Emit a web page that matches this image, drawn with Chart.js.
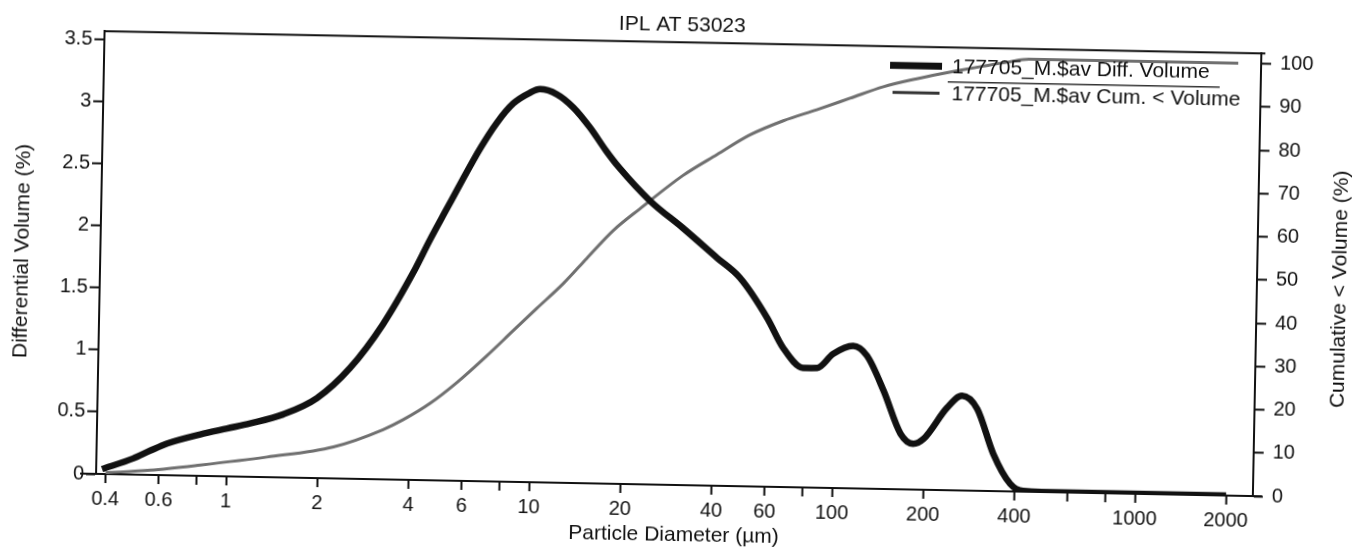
<!DOCTYPE html>
<html><head><meta charset="utf-8">
<script src="https://cdn.jsdelivr.net/npm/chart.js@4/dist/chart.umd.min.js"></script>
<style>
html,body{margin:0;padding:0;background:#fff;overflow:hidden;width:1355px;height:549px}
#wrap{position:absolute;left:0;top:0;width:1355px;height:549px;transform:rotate(1.1deg);transform-origin:677.5px 274.5px}
canvas{display:block}
</style></head><body>
<div id="wrap"><canvas id="c" width="1355" height="549"></canvas></div>
<script>
const chartTitle = 'IPL AT 53023';
const diffLabel = '177705_M.$av Diff. Volume';
const cumLabel = '177705_M.$av Cum. < Volume';
const xTitle = 'Particle Diameter (µm)';
const yLeftTitle = 'Differential Volume (%)';
const yRightTitle = 'Cumulative < Volume (%)';

const diffDiameters = [0.389,0.492,0.559,0.636,0.816,1.0,1.19,1.53,1.97,2.52,3.22,4.02,4.55,5.14,5.81,6.56,7.42,8.39,9.52,10.26,11.66,13.26,15.09,17.11,18.93,24.1,31.0,40.4,48.2,59.6,67.6,78.9,87.9,98.9,115,128,146,167,184,199,237,265,298,339,387,427,600,1000,2000];
const diffValues    = [0.04,0.13,0.195,0.256,0.334,0.386,0.43,0.509,0.644,0.891,1.25,1.67,1.94,2.19,2.44,2.68,2.89,3.05,3.14,3.17,3.132,3.027,2.868,2.683,2.55,2.285,2.073,1.837,1.68,1.361,1.122,0.964,0.966,1.081,1.149,1.071,0.791,0.448,0.369,0.41,0.665,0.764,0.661,0.30,0.062,0.007,0,0,0];

const cumDiameters = [0.4,0.561,0.819,1.36,2.25,3.27,3.81,4.66,5.69,7.11,8.68,10.33,12.61,15.0,18.3,22.3,30.8,39.8,51,65.5,84.3,108.4,139.3,179.4,213.8,242.8,296.5,360,420,1000,2060];
const cumValues    = [0.3,1.1,2.5,4.65,7.3,11.5,13.9,17.8,22.7,29.0,35.0,40.2,46.1,52.0,58.6,63.7,71.6,76.6,81.3,84.7,87.4,90.2,93.0,95.0,96.2,97.0,98.2,99.3,100,100,100];

const xTickValues = [0.4,0.6,0.8,1,2,4,6,8,10,20,40,60,80,100,200,400,600,800,1000,2000];
const xTickLabels = ['0.4','0.6','','1','2','4','6','','10','20','40','60','','100','200','400','','','1000','2000'];
const leftTicks = [0,0.5,1,1.5,2,2.5,3,3.5];
const leftTickLabels = ['0','0.5','1','1.5','2','2.5','3','3.5'];
const rightTicks = [0,10,20,30,40,50,60,70,80,90,100];

const FONT = "'Liberation Sans', Arial, Helvetica, sans-serif";
const INK = '#111';
Chart.defaults.font.family = FONT;
Chart.defaults.color = INK;

const framePlugin = {
  id: 'frameLegend',
  afterDatasetsDraw(chart) {
    const {ctx, chartArea: a} = chart;
    ctx.save();
    ctx.strokeStyle = INK; ctx.lineWidth = 2;
    // top frame line
    ctx.beginPath(); ctx.moveTo(a.left, a.top); ctx.lineTo(a.right + 4, a.top); ctx.stroke();
    // x axis line runs a little past both vertical axes
    ctx.beginPath(); ctx.moveTo(a.left - 16, a.bottom); ctx.lineTo(a.left, a.bottom); ctx.stroke();
    ctx.beginPath(); ctx.moveTo(a.right, a.bottom); ctx.lineTo(a.right + 9, a.bottom); ctx.stroke();
    // legend inside plot, top right
    const ds = chart.data.datasets;
    const rowY = [a.top + 19, a.top + 46];
    const x0 = a.right - 371;
    ds.forEach((d, i) => {
      ctx.strokeStyle = i === 0 ? INK : '#333';
      ctx.lineWidth = i === 0 ? 7 : 3;
      ctx.beginPath(); ctx.moveTo(x0 + (i ? 3 : 0), rowY[i]); ctx.lineTo(x0 + (i ? 50 : 52), rowY[i]); ctx.stroke();
      ctx.fillStyle = INK; ctx.font = '21px ' + FONT; ctx.textBaseline = 'middle'; ctx.textAlign = 'left';
      ctx.fillText(d.label, x0 + 62, rowY[i] + 1);
    });
    ctx.strokeStyle = '#333'; ctx.lineWidth = 1.5;
    ctx.beginPath(); ctx.moveTo(x0 + 58, a.top + 34.5); ctx.lineTo(x0 + 330, a.top + 34.5); ctx.stroke();
    // right axis title, reading bottom-to-top
    ctx.save();
    ctx.translate(1340, (a.top + a.bottom) / 2 + 13);
    ctx.rotate(-Math.PI / 2);
    ctx.font = '21px ' + FONT; ctx.fillStyle = INK; ctx.textAlign = 'center'; ctx.textBaseline = 'middle';
    ctx.fillText(yRightTitle, 0, 0);
    ctx.restore();
    ctx.restore();
  }
};

new Chart(document.getElementById('c'), {
  type: 'line',
  data: {
    datasets: [
      { label: diffLabel, data: diffDiameters.map((d, i) => ({x: d, y: diffValues[i]})), yAxisID: 'y',
        borderColor: INK, borderWidth: 6.5, pointRadius: 0, cubicInterpolationMode: 'monotone', fill: false },
      { label: cumLabel, data: cumDiameters.map((d, i) => ({x: d, y: cumValues[i]})), yAxisID: 'y2',
        borderColor: '#707070', borderWidth: 3, pointRadius: 0, cubicInterpolationMode: 'monotone', fill: false }
    ]
  },
  options: {
    responsive: false, animation: false, devicePixelRatio: 1,
    layout: { padding: 0 },
    plugins: {
      legend: { display: false },
      tooltip: { enabled: false },
      title: { display: true, text: chartTitle, color: INK, font: { size: 21, weight: 'normal' }, padding: { top: 13, bottom: 4 } }
    },
    scales: {
      x: {
        type: 'logarithmic', position: 'bottom', min: 0.372, max: 2451,
        afterBuildTicks: s => { s.ticks = xTickValues.map(v => ({ value: v })); },
        afterFit: s => { s.height = 64; },
        ticks: { autoSkip: false, maxRotation: 0, minRotation: 0, padding: 4, font: { size: 20 }, color: INK,
                 callback: (v, i) => xTickLabels[i] },
        grid: { drawOnChartArea: false, drawTicks: true, tickLength: 9, tickColor: INK, tickWidth: 2 },
        border: { display: true, color: INK, width: 2 },
        title: { display: true, text: xTitle, color: INK, font: { size: 21 }, padding: { top: 0, bottom: 1 } }
      },
      y: {
        type: 'linear', position: 'left', min: 0, max: 3.57,
        afterBuildTicks: s => { s.ticks = leftTicks.map(v => ({ value: v })); },
        afterFit: s => { s.width = 100; },
        ticks: { padding: 2, font: { size: 20 }, color: INK, callback: (v, i) => leftTickLabels[i] },
        grid: { drawOnChartArea: false, drawTicks: true, tickLength: 10, tickColor: INK, tickWidth: 2 },
        border: { display: true, color: INK, width: 2 },
        title: { display: true, text: yLeftTitle, color: INK, font: { size: 21 }, padding: { top: 10, bottom: 0 } }
      },
      y2: {
        type: 'linear', position: 'right', min: 0, max: 102.4,
        afterBuildTicks: s => { s.ticks = rightTicks.map(v => ({ value: v })); },
        afterFit: s => { s.width = 98; },
        ticks: { padding: 9, font: { size: 20 }, color: INK, callback: v => String(v) },
        grid: { drawOnChartArea: false, drawTicks: true, tickLength: 10, tickColor: INK, tickWidth: 2 },
        border: { display: true, color: INK, width: 2 },
        title: { display: false, text: yRightTitle }
      }
    }
  },
  plugins: [framePlugin]
});
</script>
</body></html>
